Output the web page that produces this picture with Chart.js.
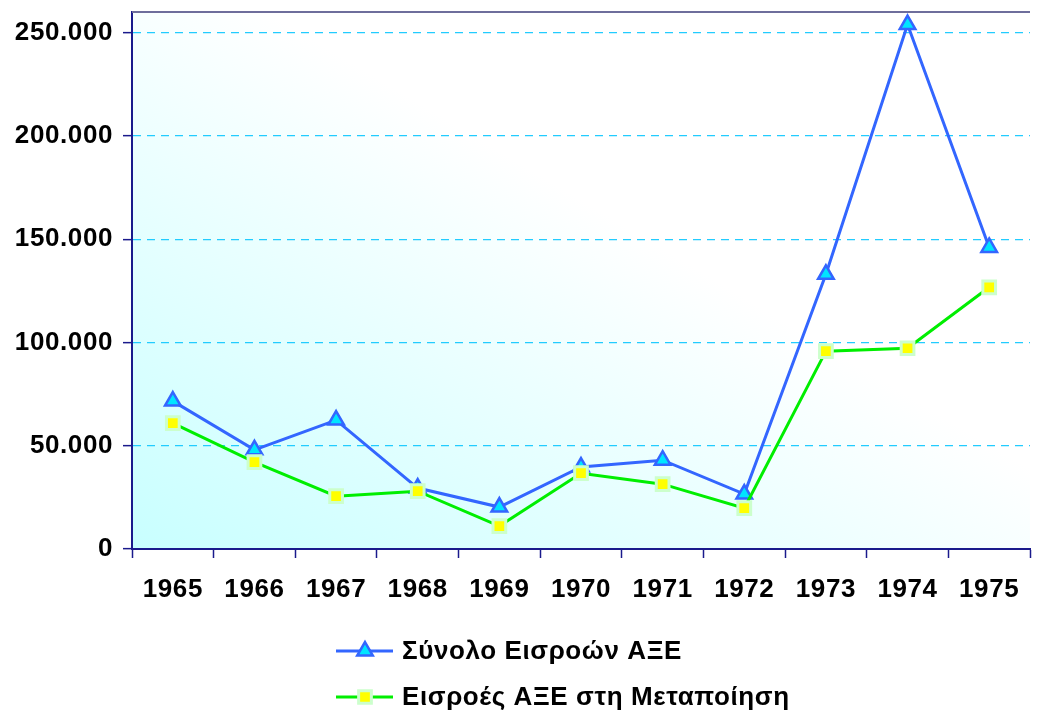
<!DOCTYPE html>
<html lang="el">
<head>
  <meta charset="UTF-8" />
  <title>Εισροές ΑΞΕ 1965-1975</title>
  <script src="https://cdn.jsdelivr.net/npm/chart.js"></script>
  <style>
    html, body {
      margin: 0;
      padding: 0;
      background: #fff;
      overflow: hidden;
    }
    #wrap {
      width: 1042px;
      height: 715px;
    }
  </style>
</head>
<body>
  <div id="wrap"><canvas id="fdiChart" width="1042" height="715"></canvas></div>
  <script>
    // data
    const years = ['1965', '1966', '1967', '1968', '1969', '1970', '1971', '1972', '1973', '1974', '1975'];
    const totalFDI = [71600, 48000, 62400, 29500, 20300, 39700, 43000, 26600, 133000, 253900, 146000];
    const manufacturingFDI = [60900, 42100, 25600, 28000, 11100, 36700, 31400, 19800, 95800, 97200, 126700];
    const seriesNames = ['Σύνολο Εισροών ΑΞΕ', 'Εισροές ΑΞΕ στη Μεταποίηση'];
    const yTicks = [0, 50000, 100000, 150000, 200000, 250000];
    const yMax = 260000;

    const NAVY = '#1a1a8c';
    const FONT = { family: "'Liberation Sans', Arial, sans-serif", size: 26, weight: 'bold' };
    const SPACING = '0.6px';

    // gradient background + top border of the plot area
    const plotBackground = {
      id: 'plotBackground',
      beforeDraw(chart) {
        const { ctx, chartArea: a } = chart;
        const w = a.right - a.left, h = a.bottom - a.top;
        const k = 1.15 / (1 / (w * w) + 1 / (h * h));
        const g = ctx.createLinearGradient(a.left, a.bottom, a.left + k / w, a.bottom - k / h);
        g.addColorStop(0, '#c8ffff');
        g.addColorStop(1, '#ffffff');
        ctx.save();
        ctx.fillStyle = g;
        ctx.fillRect(a.left, a.top, w, h);
        ctx.restore();
        ctx.letterSpacing = SPACING;
      },
      afterDatasetsDraw(chart) {
        const { ctx, chartArea: a } = chart;
        ctx.save();
        ctx.strokeStyle = '#6e6e9c';
        ctx.lineWidth = 2;
        ctx.beginPath();
        ctx.moveTo(a.left, a.top);
        ctx.lineTo(a.right, a.top);
        ctx.stroke();
        ctx.restore();
      }
    };

    // stacked legend under the x axis
    const stackedLegend = {
      id: 'stackedLegend',
      afterDraw(chart) {
        const { ctx } = chart;
        const rows = [651, 697];
        const cx = 365;
        ctx.save();
        ctx.letterSpacing = SPACING;
        chart.data.datasets.forEach((ds, i) => {
          const y = rows[i];
          ctx.strokeStyle = ds.borderColor;
          ctx.lineWidth = 3;
          ctx.beginPath();
          ctx.moveTo(336, y);
          ctx.lineTo(393, y);
          ctx.stroke();
          ctx.fillStyle = ds.pointBackgroundColor;
          ctx.strokeStyle = ds.pointBorderColor;
          ctx.lineWidth = ds.pointBorderWidth;
          ctx.beginPath();
          if (ds.pointStyle === 'triangle') {
            const r = ds.pointRadius;
            ctx.moveTo(cx, y - r);
            ctx.lineTo(cx + r * 0.866, y + r / 2);
            ctx.lineTo(cx - r * 0.866, y + r / 2);
            ctx.closePath();
          } else {
            const s = ds.pointRadius * Math.SQRT1_2;
            ctx.rect(cx - s, y - s, 2 * s, 2 * s);
          }
          ctx.fill();
          ctx.stroke();
          ctx.fillStyle = '#000';
          ctx.font = 'bold 26px "Liberation Sans", Arial, sans-serif';
          ctx.textBaseline = 'middle';
          ctx.textAlign = 'left';
          ctx.fillText(ds.label, 402, y + 1);
        });
        ctx.restore();
      }
    };

    new Chart(document.getElementById('fdiChart'), {
      type: 'line',
      data: {
        labels: years,
        datasets: [
          {
            label: seriesNames[0],
            data: totalFDI,
            borderColor: '#3366ff',
            borderWidth: 3,
            pointStyle: 'triangle',
            pointRadius: 9,
            pointBorderWidth: 2.5,
            pointBackgroundColor: '#00e5ff',
            pointBorderColor: '#3366ff',
            tension: 0,
            order: 2
          },
          {
            label: seriesNames[1],
            data: manufacturingFDI,
            borderColor: '#00ee00',
            borderWidth: 3,
            pointStyle: 'rect',
            pointRadius: 9,
            pointBorderWidth: 3,
            pointBackgroundColor: '#ffff00',
            pointBorderColor: '#ccffcc',
            tension: 0,
            order: 1
          }
        ]
      },
      options: {
        responsive: false,
        animation: false,
        layout: { padding: { top: 11, left: 0, right: 0, bottom: 0 } },
        plugins: {
          legend: { display: false },
          tooltip: { enabled: false }
        },
        scales: {
          x: {
            offset: true,
            grid: {
              offset: true,
              drawOnChartArea: false,
              tickLength: 9,
              tickColor: NAVY,
              tickWidth: 1.5
            },
            border: { color: NAVY, width: 2 },
            ticks: { color: '#000', font: FONT, padding: 16, maxRotation: 0, autoSkip: false },
            afterFit(scale) { scale.height = 166; }
          },
          y: {
            min: 0,
            max: yMax,
            afterBuildTicks(scale) { scale.ticks = yTicks.map(v => ({ value: v })); },
            grid: {
              color: '#22ccff',
              lineWidth: 1.3,
              tickLength: 9,
              tickColor: NAVY,
              tickBorderDash: [],
              tickWidth: 1.5
            },
            border: { color: NAVY, width: 2, dash: [8, 6] },
            ticks: {
              color: '#000',
              font: FONT,
              padding: 10,
              callback: v => v.toLocaleString('de-DE')
            },
            afterFit(scale) {
              scale.width = 132;
              scale.paddingTop = 0;
            }
          }
        }
      },
      plugins: [plotBackground, stackedLegend]
    });
  </script>
</body>
</html>
